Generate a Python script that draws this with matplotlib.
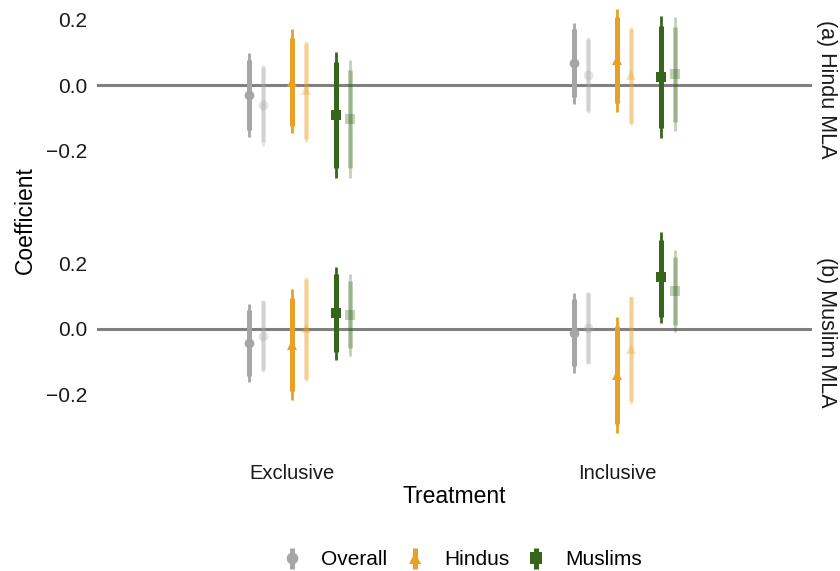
import numpy as np
import matplotlib
matplotlib.use("Agg")
import matplotlib.pyplot as plt

plt.rcParams['font.family'] = ['Liberation Sans', 'DejaVu Sans']

#-----------------------------------------------------
#-------- DONNEES ------------------------------------

treatments = ["Exclusive", "Inclusive"]
groups = ["Overall", "Hindus", "Muslims"]
panels = ["(a) Hindu MLA", "(b) Muslim MLA"]

# estimations principales (modele plein) : [panel][groupe][traitement]
est_main = [
    [[-0.031, 0.068], [0.010, 0.076], [-0.092, 0.025]],
    [[-0.043, -0.013], [-0.050, -0.142], [0.048, 0.156]],
]
lo90_main = [
    [[-0.137, -0.036], [-0.125, -0.054], [-0.253, -0.130]],
    [[-0.144, -0.114], [-0.191, -0.292], [-0.071, 0.036]],
]
hi90_main = [
    [[0.076, 0.171], [0.144, 0.209], [0.071, 0.180]],
    [[0.056, 0.090], [0.092, 0.008], [0.166, 0.270]],
]
lo95_main = [
    [[-0.158, -0.057], [-0.147, -0.082], [-0.284, -0.161]],
    [[-0.162, -0.135], [-0.218, -0.320], [-0.096, 0.016]],
]
hi95_main = [
    [[0.097, 0.190], [0.171, 0.232], [0.101, 0.212]],
    [[0.075, 0.109], [0.121, 0.036], [0.189, 0.296]],
]

# estimations secondaires (en transparence)
est_alt = [
    [[-0.061, 0.031], [-0.015, 0.031], [-0.104, 0.034]],
    [[-0.022, 0.001], [0.002, -0.062], [0.041, 0.115]],
]
lo90_alt = [
    [[-0.175, -0.080], [-0.165, -0.117], [-0.253, -0.112]],
    [[-0.128, -0.105], [-0.155, -0.222], [-0.060, 0.011]],
]
hi90_alt = [
    [[0.055, 0.142], [0.128, 0.172], [0.046, 0.178]],
    [[0.083, 0.108], [0.152, 0.095], [0.146, 0.219]],
]
lo95_alt = [
    [[-0.185, -0.085], [-0.175, -0.122], [-0.284, -0.140]],
    [[-0.132, -0.109], [-0.159, -0.229], [-0.084, -0.010]],
]
hi95_alt = [
    [[0.060, 0.146], [0.135, 0.178], [0.076, 0.207]],
    [[0.087, 0.112], [0.158, 0.099], [0.166, 0.240]],
]

#-----------------------------------------------------
#-------- STYLE --------------------------------------

couleurs = ["#A6A6A6", "#E8A026", "#36661B"]
marqueurs = ["o", "^", "s"]
decalage_groupe = [-0.132, 0.0, 0.135]
decalage_alt = 0.043
alpha_alt = 0.3

fig = plt.figure(figsize=(8.4, 5.71), dpi=100)

# positions des panneaux en pixels (haut, bas) -> fractions
W, H = 840, 571
gauche, droite = 97, 812
pos_panneaux = [(-22, 200), (221.5, 443.5)]
ylim = (-0.351, 0.327)

axes = []
for p, (haut, bas) in enumerate(pos_panneaux):
    ax = fig.add_axes([gauche / W, 1 - bas / H, (droite - gauche) / W, (bas - haut) / H])
    axes.append(ax)

handles = []
x_base = np.arange(1, len(treatments) + 1)

for p, ax in enumerate(axes):
    ax.axhline(0, color="#808080", lw=2.2, zorder=1)

    for g in range(len(groups)):
        c = couleurs[g]
        x = x_base + decalage_groupe[g]
        xa = x + decalage_alt

        # modele secondaire, en transparence
        ax.vlines(xa, lo95_alt[p][g], hi95_alt[p][g], color=c, lw=2.0, alpha=alpha_alt, zorder=2)
        ax.vlines(xa, lo90_alt[p][g], hi90_alt[p][g], color=c, lw=3.6, alpha=alpha_alt, zorder=2)
        ax.plot(xa, est_alt[p][g], linestyle="none", marker=marqueurs[g], color=c,
                markersize=7, markeredgewidth=0, alpha=alpha_alt, zorder=2)

        # modele principal : 95% fin, 90% epais + point
        ax.vlines(x, lo95_main[p][g], hi95_main[p][g], color=c, lw=2.0, zorder=3)
        est = np.array(est_main[p][g])
        yerr = [est - np.array(lo90_main[p][g]), np.array(hi90_main[p][g]) - est]
        eb = ax.errorbar(x, est, yerr=yerr, fmt=marqueurs[g], color=c, ecolor=c,
                         elinewidth=3.6, capsize=0, markersize=7, markeredgewidth=0, zorder=4)
        if p == 0:
            handles.append(eb)

    ax.set_xlim(0.4, 2.6)
    ax.set_ylim(*ylim)
    ax.set_yticks([-0.2, 0.0, 0.2])
    ax.set_yticklabels(["\u22120.2", "0.0", "0.2"])
    for s in ax.spines.values():
        s.set_visible(False)
    ax.tick_params(axis="both", length=0, labelsize=15, labelcolor="#1a1a1a", pad=7)
    ax.set_xticks(x_base)
    if p == 0:
        ax.set_xticklabels([])
    else:
        ax.set_xticklabels(treatments, fontsize=14.5)
        ax.tick_params(axis="x", pad=15)

    # etiquette du panneau a droite
    ax.text(1.005, 0.5, panels[p], transform=ax.transAxes, rotation=-90,
            ha="left", va="center", fontsize=15.5, color="#1a1a1a")

axes[1].set_xlabel("Treatment", fontsize=16.5, labelpad=1)
fig.text(25 / W, 1 - 220 / H, "Coefficient", rotation=90, ha="center", va="center", fontsize=16.5)

fig.legend(handles, groups, loc="lower center", bbox_to_anchor=(0.55, -0.03), ncol=3,
           frameon=False, fontsize=15, handlelength=1.0, handletextpad=0.9, columnspacing=0.8,
           markerscale=1.2)

plt.savefig("out.png", dpi=100)
